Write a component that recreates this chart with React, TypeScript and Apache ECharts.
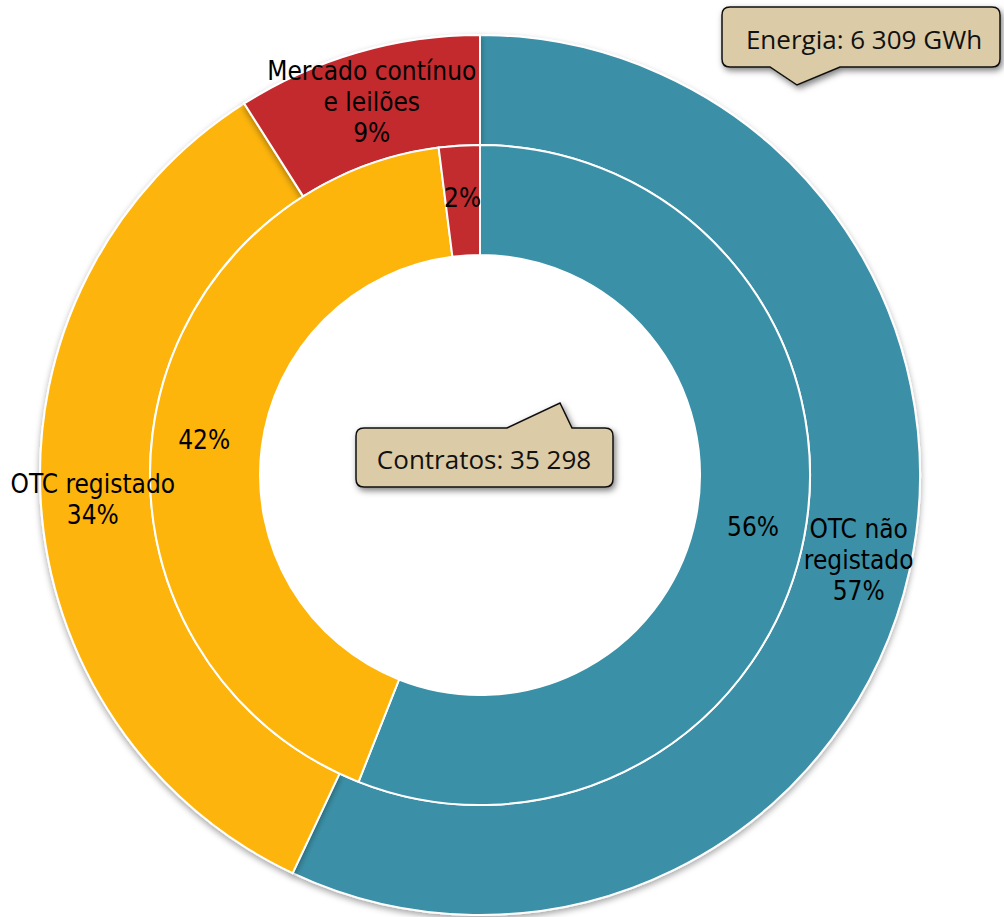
import React, { useEffect, useRef } from "react";
import * as echarts from "echarts";

const outerNames = ["OTC não\nregistado", "OTC registado", "Mercado contínuo\ne leilões"];
const outerValues = [57, 34, 9];
const innerNames = ["OTC não registado", "OTC registado", "Mercado contínuo e leilões"];
const innerValues = [56, 42, 2];
const colors = ["#3A90A7", "#FDB50B", "#C22C2F"];
const energyLabel = "Energia: 6 309 GWh";
const contractsLabel = "Contratos: 35 298";

const energyPath =
  "M730,7 H992 Q1000,7 1000,15 V59 Q1000,67 992,67 H840 L797,85 L770,67 H730 Q722,67 722,59 V15 Q722,7 730,7 Z";
const contractsPath =
  "M364,428 H507 L560,403 L572,428 H605 Q613,428 613,436 V479 Q613,487 605,487 H364 Q356,487 356,479 V436 Q356,428 364,428 Z";

echarts.graphic.registerShape("calloutEnergy", echarts.graphic.extendPath(energyPath, {}) as any);
echarts.graphic.registerShape("calloutContracts", echarts.graphic.extendPath(contractsPath, {}) as any);

const labelFont = "'DejaVu Sans Condensed', 'DejaVu Sans', sans-serif";
const calloutFont = "'Open Sans', sans-serif";

export default function App() {
  const ref = useRef<HTMLDivElement>(null);
  useEffect(() => {
    document.body.style.margin = "0";
    const chart = echarts.init(ref.current!, undefined, { renderer: "svg" });
    const calloutStyle = {
      fill: "#DBCBA7",
      stroke: "#111",
      lineWidth: 1.5,
      shadowBlur: 6,
      shadowOffsetX: 2,
      shadowOffsetY: 3,
      shadowColor: "rgba(0,0,0,0.5)",
    };
    chart.setOption({
      animation: false,
      series: [
        {
          type: "pie",
          center: [480, 475],
          radius: [330, 440],
          startAngle: 90,
          clockwise: true,
          silent: true,
          itemStyle: {
            borderColor: "#fff",
            borderWidth: 2,
            shadowBlur: 6,
            shadowOffsetY: 3,
            shadowColor: "rgba(0,0,0,0.35)",
          },
          label: {
            position: "inside",
            color: "#000",
            fontFamily: labelFont,
            fontSize: 26,
            lineHeight: 31,
            formatter: (p: any) => `${p.name}\n${p.value}%`,
          },
          labelLine: { show: false },
          data: outerNames.map((n, i) => ({
            name: n,
            value: outerValues[i],
            itemStyle: { color: colors[i] },
          })),
        },
        {
          type: "pie",
          center: [480, 475],
          radius: [220, 330],
          startAngle: 90,
          clockwise: true,
          silent: true,
          itemStyle: { borderColor: "#fff", borderWidth: 2 },
          label: {
            position: "inside",
            color: "#000",
            fontFamily: labelFont,
            fontSize: 26,
            formatter: (p: any) => `${p.value}%`,
          },
          labelLine: { show: false },
          data: innerNames.map((n, i) => ({
            name: n,
            value: innerValues[i],
            itemStyle: { color: colors[i] },
          })),
        },
      ],
      graphic: [
        { type: "calloutEnergy", x: 0, y: 0, style: calloutStyle, z: 10 },
        {
          type: "text",
          x: 864,
          y: 39,
          z: 11,
          style: {
            text: energyLabel,
            font: `26px ${calloutFont}`,
            fill: "#111",
            align: "center",
            verticalAlign: "middle",
          },
        },
        { type: "calloutContracts", x: 0, y: 0, style: calloutStyle, z: 10 },
        {
          type: "text",
          x: 484,
          y: 459,
          z: 11,
          style: {
            text: contractsLabel,
            font: `26px ${calloutFont}`,
            fill: "#111",
            align: "center",
            verticalAlign: "middle",
          },
        },
      ],
    });
    return () => chart.dispose();
  }, []);
  return <div ref={ref} style={{ width: 1004, height: 917 }} />;
}
